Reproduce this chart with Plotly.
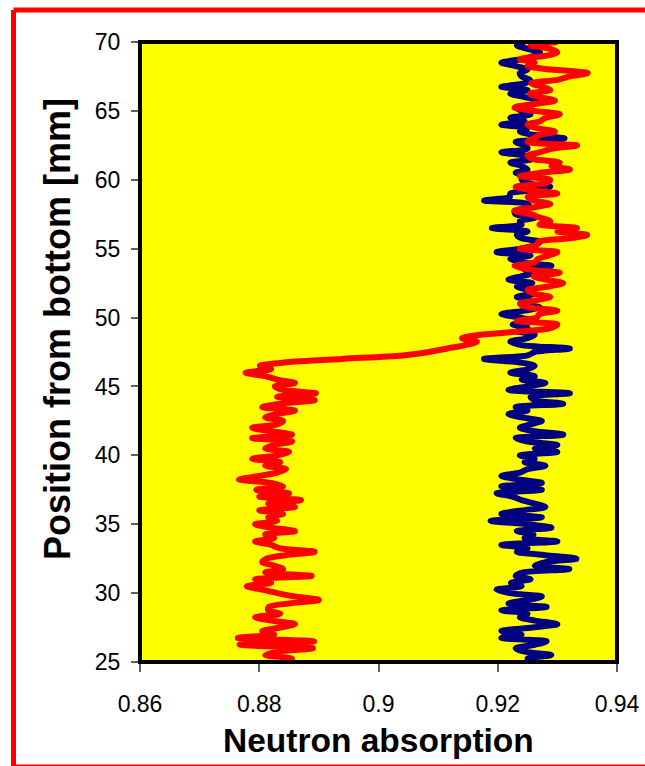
import plotly.graph_objects as go

# Sampling positions along the sample (mm from bottom)
positions = [
    25.00, 25.25, 25.50, 25.75, 26.00, 26.25, 26.50, 26.75, 27.00, 27.25,
    27.50, 27.75, 28.00, 28.25, 28.50, 28.75, 29.00, 29.25, 29.50, 29.75,
    30.00, 30.25, 30.50, 30.75, 31.00, 31.25, 31.50, 31.75, 32.00, 32.25,
    32.50, 32.75, 33.00, 33.25, 33.50, 33.75, 34.00, 34.25, 34.50, 34.75,
    35.00, 35.25, 35.50, 35.75, 36.00, 36.25, 36.50, 36.75, 37.00, 37.25,
    37.50, 37.75, 38.00, 38.25, 38.50, 38.75, 39.00, 39.25, 39.50, 39.75,
    40.00, 40.25, 40.50, 40.75, 41.00, 41.25, 41.50, 41.75, 42.00, 42.25,
    42.50, 42.75, 43.00, 43.25, 43.50, 43.75, 44.00, 44.25, 44.50, 44.75,
    45.00, 45.25, 45.50, 45.75, 46.00, 46.25, 46.50, 46.75, 47.00, 47.25,
    47.50, 47.75, 48.00, 48.25, 48.50, 48.75, 49.00, 49.25, 49.50, 49.75,
    50.00, 50.25, 50.50, 50.75, 51.00, 51.25, 51.50, 51.75, 52.00, 52.25,
    52.50, 52.75, 53.00, 53.25, 53.50, 53.75, 54.00, 54.25, 54.50, 54.75,
    55.00, 55.25, 55.50, 55.75, 56.00, 56.25, 56.50, 56.75, 57.00, 57.25,
    57.50, 57.75, 58.00, 58.25, 58.50, 58.75, 59.00, 59.25, 59.50, 59.75,
    60.00, 60.25, 60.50, 60.75, 61.00, 61.25, 61.50, 61.75, 62.00, 62.25,
    62.50, 62.75, 63.00, 63.25, 63.50, 63.75, 64.00, 64.25, 64.50, 64.75,
    65.00, 65.25, 65.50, 65.75, 66.00, 66.25, 66.50, 66.75, 67.00, 67.25,
    67.50, 67.75, 68.00, 68.25, 68.50, 68.75, 69.00, 69.25, 69.50, 69.75,
    70.00,
]

# Navy series (reference sample)
navy_absorption = [
    0.9262, 0.9250, 0.9290, 0.9245, 0.9230, 0.9262, 0.9282, 0.9206, 0.9240, 0.9206,
    0.9258, 0.9300, 0.9262, 0.9237, 0.9250, 0.9206, 0.9282, 0.9218, 0.9250, 0.9274,
    0.9220, 0.9198, 0.9240, 0.9222, 0.9255, 0.9230, 0.9243, 0.9320, 0.9262, 0.9280,
    0.9332, 0.9280, 0.9232, 0.9250, 0.9206, 0.9300, 0.9245, 0.9260, 0.9232, 0.9290,
    0.9250, 0.9188, 0.9274, 0.9206, 0.9240, 0.9280, 0.9262, 0.9240, 0.9225, 0.9198,
    0.9274, 0.9206, 0.9274, 0.9235, 0.9206, 0.9237, 0.9250, 0.9280, 0.9245, 0.9262,
    0.9237, 0.9300, 0.9262, 0.9300, 0.9250, 0.9230, 0.9310, 0.9262, 0.9237, 0.9255,
    0.9274, 0.9240, 0.9218, 0.9250, 0.9230, 0.9310, 0.9262, 0.9255, 0.9321, 0.9218,
    0.9250, 0.9280, 0.9240, 0.9262, 0.9221, 0.9250, 0.9262, 0.9235, 0.9177, 0.9250,
    0.9262, 0.9321, 0.9240, 0.9221, 0.9250, 0.9262, 0.9232, 0.9250, 0.9225, 0.9262,
    0.9237, 0.9206, 0.9245, 0.9270, 0.9240, 0.9255, 0.9232, 0.9262, 0.9250, 0.9232,
    0.9258, 0.9218, 0.9240, 0.9262, 0.9245, 0.9290, 0.9240, 0.9221, 0.9255, 0.9198,
    0.9240, 0.9262, 0.9271, 0.9240, 0.9232, 0.9250, 0.9190, 0.9240, 0.9237, 0.9262,
    0.9230, 0.9228, 0.9254, 0.9250, 0.9177, 0.9220, 0.9221, 0.9262, 0.9288, 0.9250,
    0.9240, 0.9262, 0.9230, 0.9250, 0.9240, 0.9221, 0.9258, 0.9245, 0.9206, 0.9250,
    0.9245, 0.9230, 0.9312, 0.9262, 0.9237, 0.9250, 0.9206, 0.9245, 0.9221, 0.9255,
    0.9240, 0.9230, 0.9262, 0.9271, 0.9245, 0.9221, 0.9250, 0.9206, 0.9245, 0.9254,
    0.9240, 0.9237, 0.9250, 0.9230, 0.9206, 0.9240, 0.9262, 0.9271, 0.9250, 0.9232,
    0.9245,
]

# Red series (sample with step near 47 mm)
red_absorption = [
    0.8840, 0.8855, 0.8810, 0.8830, 0.8890, 0.8767, 0.8892, 0.8764, 0.8825, 0.8805,
    0.8835, 0.8860, 0.8820, 0.8793, 0.8835, 0.8815, 0.8816, 0.8850, 0.8900, 0.8860,
    0.8830, 0.8805, 0.8779, 0.8820, 0.8793, 0.8888, 0.8810, 0.8840, 0.8825, 0.8805,
    0.8812, 0.8845, 0.8893, 0.8835, 0.8820, 0.8793, 0.8825, 0.8810, 0.8860, 0.8820,
    0.8793, 0.8830, 0.8815, 0.8840, 0.8800, 0.8860, 0.8815, 0.8870, 0.8800, 0.8850,
    0.8795, 0.8840, 0.8820, 0.8766, 0.8800, 0.8830, 0.8845, 0.8810, 0.8835, 0.8788,
    0.8830, 0.8850, 0.8810, 0.8825, 0.8855, 0.8788, 0.8855, 0.8820, 0.8788, 0.8830,
    0.8840, 0.8810, 0.8830, 0.8860, 0.8805, 0.8835, 0.8893, 0.8830, 0.8895, 0.8840,
    0.8826, 0.8860, 0.8830, 0.8810, 0.8777, 0.8820, 0.8801, 0.8845, 0.8940, 0.9040,
    0.9085, 0.9115, 0.9145, 0.9165, 0.9140, 0.9170, 0.9240, 0.9290, 0.9300, 0.9232,
    0.9265, 0.9270, 0.9300, 0.9250, 0.9237, 0.9262, 0.9288, 0.9260, 0.9250, 0.9285,
    0.9310, 0.9282, 0.9260, 0.9304, 0.9250, 0.9228, 0.9262, 0.9267, 0.9285, 0.9300,
    0.9237, 0.9265, 0.9268, 0.9320, 0.9350, 0.9300, 0.9333, 0.9270, 0.9288, 0.9271,
    0.9255, 0.9228, 0.9260, 0.9288, 0.9260, 0.9250, 0.9300, 0.9255, 0.9230, 0.9280,
    0.9288, 0.9237, 0.9270, 0.9321, 0.9290, 0.9304, 0.9260, 0.9250, 0.9271, 0.9290,
    0.9333, 0.9250, 0.9260, 0.9271, 0.9296, 0.9265, 0.9250, 0.9271, 0.9280, 0.9304,
    0.9262, 0.9228, 0.9260, 0.9296, 0.9270, 0.9254, 0.9288, 0.9275, 0.9256, 0.9300,
    0.9321, 0.9351, 0.9290, 0.9250, 0.9262, 0.9237, 0.9280, 0.9300, 0.9288, 0.9255,
    0.9300,
]

x_ticks = [0.86, 0.88, 0.90, 0.92, 0.94]
x_tick_labels = ["0.86", "0.88", "0.9", "0.92", "0.94"]
y_ticks = [25, 30, 35, 40, 45, 50, 55, 60, 65, 70]

FONT = "Liberation Sans, Arial, sans-serif"

fig = go.Figure()
fig.add_trace(go.Scatter(
    x=navy_absorption, y=positions, mode="lines",
    line=dict(color="#000080", width=6, shape="spline", smoothing=0.8),
    showlegend=False,
))
fig.add_trace(go.Scatter(
    x=red_absorption, y=positions, mode="lines",
    line=dict(color="#FF0000", width=6, shape="spline", smoothing=0.8),
    showlegend=False,
))

fig.update_layout(
    width=645, height=766,
    margin=dict(l=140, r=28, t=42, b=104, autoexpand=False),
    paper_bgcolor="white",
    plot_bgcolor="#FFFF00",
    font=dict(family=FONT, color="black", size=21),
    xaxis=dict(
        range=[0.86, 0.94], tickvals=x_ticks, ticktext=x_tick_labels,
        ticks="outside", ticklen=9, tickwidth=1.5, tickcolor="#606060",
        showgrid=False, zeroline=False, showline=False, automargin=False,
        tickfont=dict(size=23), ticklabelstandoff=12,
    ),
    yaxis=dict(
        range=[25, 70], tickvals=y_ticks,
        ticks="outside", ticklen=8, tickwidth=1.5, tickcolor="#606060",
        showgrid=False, zeroline=False, showline=False, automargin=False,
        tickfont=dict(size=23), ticklabelstandoff=6,
    ),
    shapes=[
        dict(type="rect", xref="paper", yref="paper", x0=0, x1=1, y0=0, y1=1,
             line=dict(color="black", width=4), layer="above"),
        # outer red frame
        dict(type="line", xref="paper", yref="paper",
             x0=-0.2652, x1=-0.2652, y0=1.0516, y1=-0.17,
             line=dict(color="#FF0000", width=5)),
        dict(type="line", xref="paper", yref="paper",
             x0=-0.2652, x1=1.2, y0=1.0516, y1=1.0516,
             line=dict(color="#FF0000", width=5)),
        dict(type="line", xref="paper", yref="paper",
             x0=-0.2652, x1=1.2, y0=-0.1669, y1=-0.1669,
             line=dict(color="#FF0000", width=2)),
    ],
    annotations=[
        dict(text="<b>Position from bottom [mm]</b>", xref="paper", yref="paper",
             x=-0.174, y=0.537, textangle=-90, showarrow=False,
             font=dict(size=36, family=FONT), xanchor="center", yanchor="middle"),
        dict(text="<b>Neutron absorption</b>", xref="paper", yref="paper",
             x=0.501, y=-0.126, showarrow=False,
             font=dict(size=33.5, family=FONT), xanchor="center", yanchor="middle"),
    ],
)

fig.write_html("out.html")
